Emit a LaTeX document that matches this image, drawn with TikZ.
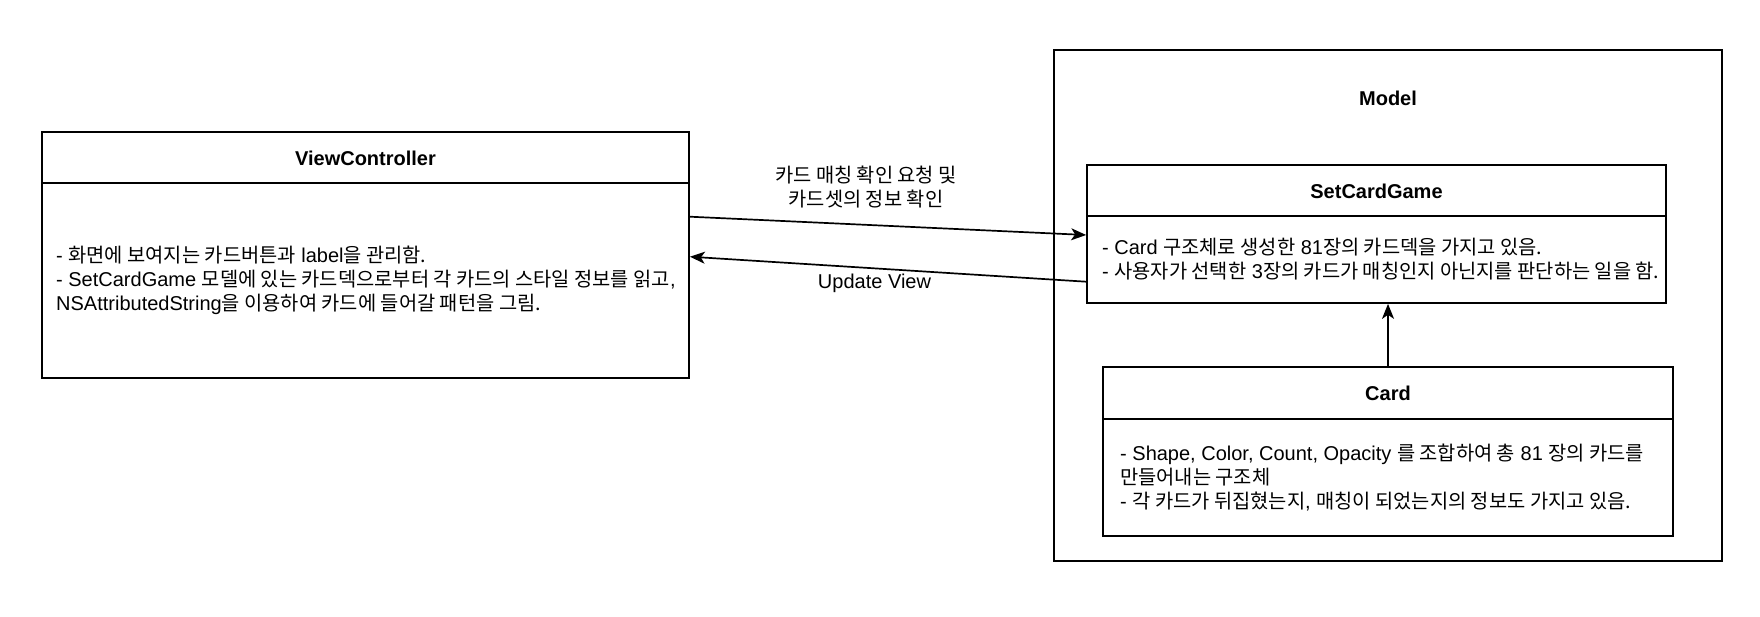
\documentclass[tikz,border=0pt]{standalone}
\usepackage{fontspec}
\setmainfont{Liberation Sans}
\newfontfamily\kofont[Scale=0.99]{Noto Sans CJK KR}
\newcommand\ko[1]{{\kofont #1}}
\usetikzlibrary{arrows.meta}
\tikzset{
  box/.style={draw, line width=1.7pt, inner sep=0pt},
  divider/.style={line width=1.7pt},
  title/.style={font=\fontsize{20}{24}\selectfont\bfseries, inner sep=0pt},
  body/.style={font=\fontsize{20}{24}\selectfont, align=left, inner sep=0pt, anchor=west},
  lbl/.style={font=\fontsize{20}{24}\selectfont, align=center, inner sep=0pt},
  arr/.style={line width=1.7pt, -{Stealth[length=15pt,width=12pt,inset=4pt]}},
}
\begin{document}
\begin{tikzpicture}[x=1pt,y=-1pt]
\useasboundingbox (0,0) rectangle (1760,616);
% ViewController
\node[box, minimum width=647pt, minimum height=246pt] (vc) at (365.5,255) {};
\draw[divider] (42,183) -- (689,183);
\node[title] (vct) at (365.5,158) {ViewController};
\node[body] (vcb) at (56,280.5) {- \ko{화면에 보여지는 카드버튼과} label\ko{을 관리함.}\\
- SetCardGame \ko{모델에 있는 카드덱으로부터 각 카드의 스타일 정보를 읽고},\\
NSAttributedString\ko{을 이용하여 카드에 들어갈 패턴을 그림.}};
% Model
\node[box, minimum width=668pt, minimum height=511pt] (model) at (1388,305.5) {};
\node[title] (modelt) at (1388,98) {Model};
% SetCardGame
\node[box, fill=white, minimum width=579pt, minimum height=138pt] (scg) at (1376.5,234) {};
\draw[divider] (1087,216) -- (1666,216);
\node[title] (scgt) at (1376.5,191) {SetCardGame};
\node[body] (scgb) at (1102,259.5) {- Card \ko{구조체로 생성한} 81\ko{장의 카드덱을 가지고 있음.}\\
- \ko{사용자가 선택한} 3\ko{장의 카드가 매칭인지 아닌지를 판단하는 일을 함.}};
% Card
\node[box, fill=white, minimum width=570pt, minimum height=169pt] (card) at (1388,451.5) {};
\draw[divider] (1103,419) -- (1673,419);
\node[title] (cardt) at (1388,393.5) {Card};
\node[body] (cardb) at (1120,477.5) {- Shape, Color, Count, Opacity \ko{를 조합하여 총} 81 \ko{장의 카드를}\\
\ko{만들어내는 구조체}\\
- \ko{각 카드가 뒤집혔는지}, \ko{매칭이 되었는지의 정보도 가지고 있음.}};
% connectors
\draw[arr] ([yshift=38.3pt]vc.east) -- ([yshift=-1pt]scg.west);
\draw[arr] ([yshift=-47.7pt]scg.west) -- ([yshift=-1.7pt]vc.east);
\draw[arr] (card.north) -- (card.north |- scg.south);
% labels
\node[lbl] (l1) at (866,187) {\ko{카드 매칭 확인 요청 및}\\\ko{카드셋의 정보 확인}};
\node[lbl] (l2) at (874.5,283) {Update View};
\end{tikzpicture}
\end{document}
